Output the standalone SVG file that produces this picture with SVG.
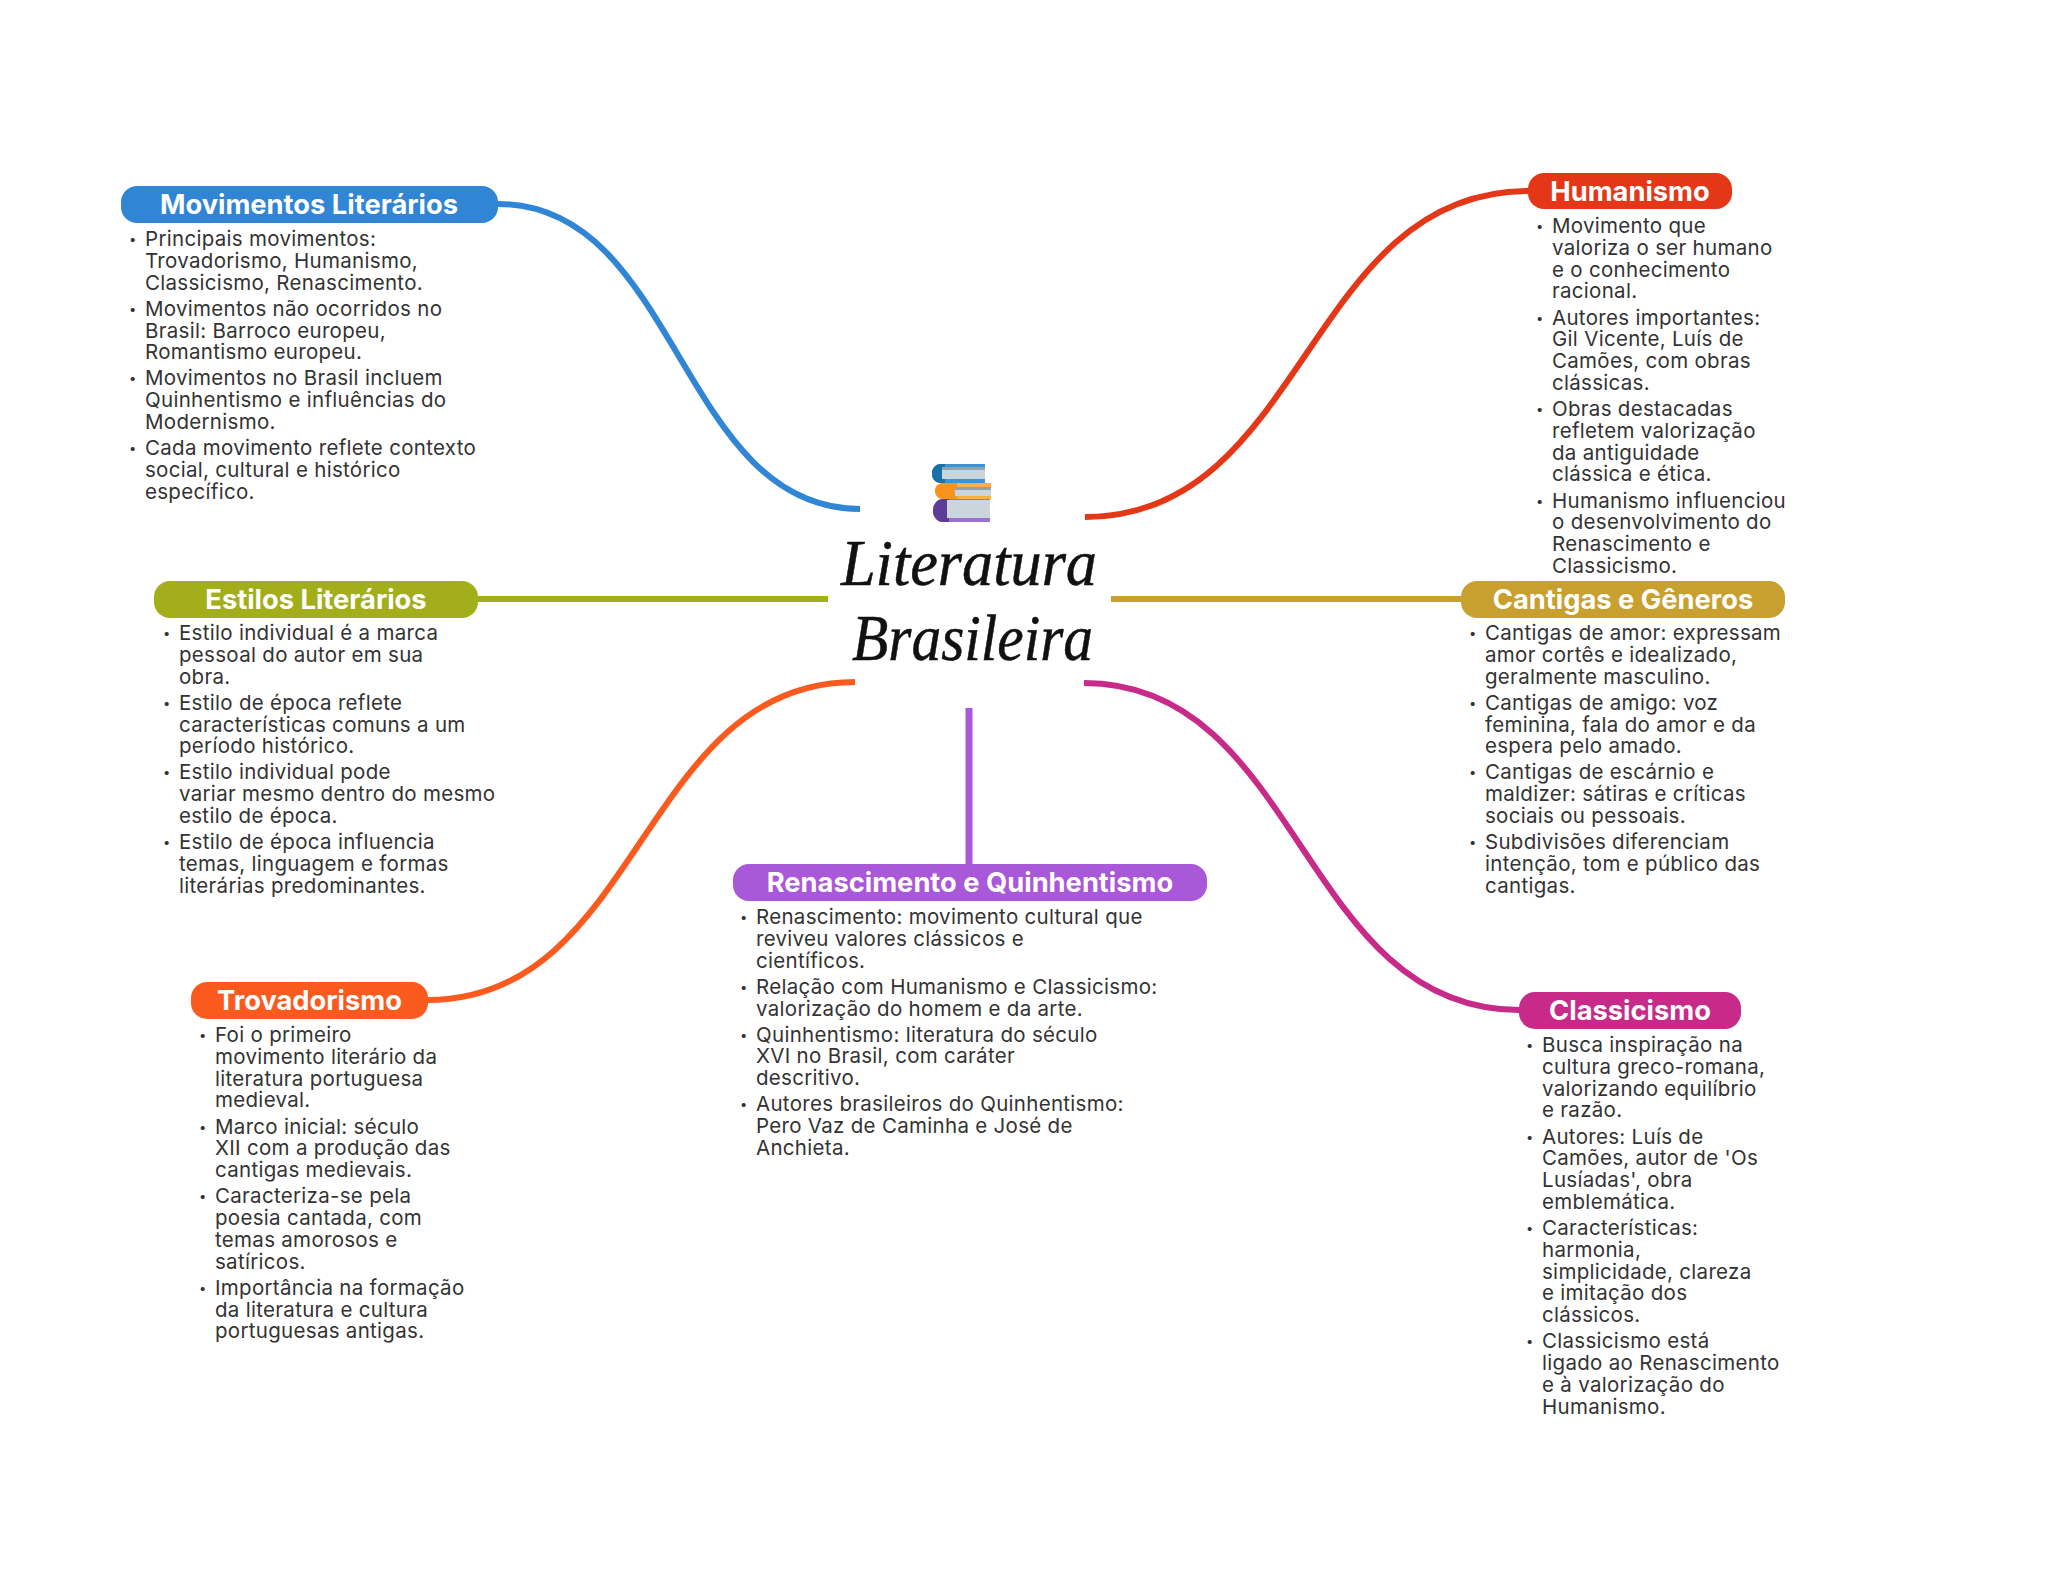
<svg xmlns="http://www.w3.org/2000/svg" width="2048" height="1569" viewBox="0 0 2048 1569">
<defs><filter id="soft" x="-5%" y="-5%" width="110%" height="110%"><feGaussianBlur stdDeviation="0.6"/></filter></defs>
<style>
.c{fill:none;stroke-width:6}
.p{font:700 27.3px Inter,"Liberation Sans",sans-serif;fill:#fff;text-anchor:middle}
.t{font:400 20.5px Inter,"Liberation Sans",sans-serif;fill:#333;letter-spacing:.3px}
.b{font-size:13px}
.h{font:italic 400 65px "Liberation Serif",serif;fill:#111;stroke:#111;stroke-width:.5}
</style>
<rect width="2048" height="1569" fill="#fff"/>
<g id="connectors">
<path class="c" stroke="#3085d5" d="M498 204C679 204 679 509 860 509"/>
<path class="c" stroke="#e43718" d="M1528 191C1306 191 1306 517 1085 517"/>
<path class="c" stroke="#a3ae1b" d="M478 599H828"/>
<path class="c" stroke="#c8a02f" d="M1111 599H1461"/>
<path class="c" stroke="#fb5a1f" d="M428 1000C641 1000 641 682 855 682"/>
<path class="c" stroke="#c72a89" d="M1084 683C1301 683 1301 1010 1519 1010"/>
<path class="c" stroke="#a858d8" style="stroke-width:7" d="M969 708V864"/>
</g>
<g id="center">
<g id="books" filter="url(#soft)">
<path fill="#3a94d8" d="M940 464H985V483H940A8 9 0 0 1 932 473A8 9 0 0 1 940 464Z"/><path fill="#1f6fa8" d="M940 464A8 9 0 0 0 932 473A8 9 0 0 0 940 483H945V464Z"/><rect x="942" y="467" width="43" height="12" fill="#cbd6dc"/><rect x="942" y="467" width="43" height="3" fill="#8fa3ad"/>
<path fill="#fbb040" d="M943 483H991V499H943A8 8 0 0 1 935 491A8 8 0 0 1 943 483Z"/><path fill="#f7941a" d="M943 483A8 8 0 0 0 935 491A8 8 0 0 0 943 499H957V483Z"/><rect x="955" y="487" width="36" height="9" fill="#cbd6dc"/><rect x="955" y="487" width="36" height="3" fill="#8fa3ad"/>
<path fill="#9a6fd0" d="M943 499H990V522H943A10 11 0 0 1 933 510A10 11 0 0 1 943 499Z"/><path fill="#5e3a98" d="M943 499A10 11 0 0 0 933 510A10 11 0 0 0 943 522H949V499Z"/><rect x="947" y="500" width="43" height="18" fill="#cbd6dc"/>
</g>
<text class="h" x="841" y="585" textLength="256" lengthAdjust="spacingAndGlyphs">Literatura</text>
<text class="h" x="852" y="660" textLength="241" lengthAdjust="spacingAndGlyphs">Brasileira</text>
</g>
<g id="movimentos">
<rect x="121" y="186" width="377" height="37" rx="16" fill="#3085d5"/>
<text class="p" x="309" y="214">Movimentos Literários</text>
<text class="t"><tspan class="b" x="129" y="244">•</tspan><tspan x="145" y="246">Principais movimentos:</tspan><tspan x="145" y="267.8">Trovadorismo, Humanismo,</tspan><tspan x="145" y="289.6">Classicismo, Renascimento.</tspan><tspan class="b" x="129" y="313.700">•</tspan><tspan x="145" y="315.7">Movimentos não ocorridos no</tspan><tspan x="145" y="337.5">Brasil: Barroco europeu,</tspan><tspan x="145" y="359.3">Romantismo europeu.</tspan><tspan class="b" x="129" y="383.400">•</tspan><tspan x="145" y="385.4">Movimentos no Brasil incluem</tspan><tspan x="145" y="407.2">Quinhentismo e influências do</tspan><tspan x="145" y="429">Modernismo.</tspan><tspan class="b" x="129" y="453.100">•</tspan><tspan x="145" y="455.1">Cada movimento reflete contexto</tspan><tspan x="145" y="476.9">social, cultural e histórico</tspan><tspan x="145" y="498.7">específico.</tspan></text>
</g>
<g id="humanismo">
<rect x="1528" y="173" width="204" height="36" rx="16" fill="#e43718"/>
<text class="p" x="1630" y="201">Humanismo</text>
<text class="t"><tspan class="b" x="1536" y="231">•</tspan><tspan x="1552" y="233">Movimento que</tspan><tspan x="1552" y="254.8">valoriza o ser humano</tspan><tspan x="1552" y="276.6">e o conhecimento</tspan><tspan x="1552" y="298.4">racional.</tspan><tspan class="b" x="1536" y="322.500">•</tspan><tspan x="1552" y="324.5">Autores importantes:</tspan><tspan x="1552" y="346.3">Gil Vicente, Luís de</tspan><tspan x="1552" y="368.1">Camões, com obras</tspan><tspan x="1552" y="389.9">clássicas.</tspan><tspan class="b" x="1536" y="414">•</tspan><tspan x="1552" y="416">Obras destacadas</tspan><tspan x="1552" y="437.8">refletem valorização</tspan><tspan x="1552" y="459.6">da antiguidade</tspan><tspan x="1552" y="481.4">clássica e ética.</tspan><tspan class="b" x="1536" y="505.500">•</tspan><tspan x="1552" y="507.5">Humanismo influenciou</tspan><tspan x="1552" y="529.3">o desenvolvimento do</tspan><tspan x="1552" y="551.1">Renascimento e</tspan><tspan x="1552" y="572.9">Classicismo.</tspan></text>
</g>
<g id="estilos">
<rect x="154" y="581" width="324" height="37" rx="16" fill="#a3ae1b"/>
<text class="p" x="316" y="609">Estilos Literários</text>
<text class="t"><tspan class="b" x="163" y="638">•</tspan><tspan x="179" y="640">Estilo individual é a marca</tspan><tspan x="179" y="661.8">pessoal do autor em sua</tspan><tspan x="179" y="683.6">obra.</tspan><tspan class="b" x="163" y="707.700">•</tspan><tspan x="179" y="709.7">Estilo de época reflete</tspan><tspan x="179" y="731.5">características comuns a um</tspan><tspan x="179" y="753.3">período histórico.</tspan><tspan class="b" x="163" y="777.400">•</tspan><tspan x="179" y="779.4">Estilo individual pode</tspan><tspan x="179" y="801.2">variar mesmo dentro do mesmo</tspan><tspan x="179" y="823">estilo de época.</tspan><tspan class="b" x="163" y="847.100">•</tspan><tspan x="179" y="849.1">Estilo de época influencia</tspan><tspan x="179" y="870.9">temas, linguagem e formas</tspan><tspan x="179" y="892.7">literárias predominantes.</tspan></text>
</g>
<g id="cantigas">
<rect x="1461" y="581" width="324" height="37" rx="16" fill="#c8a02f"/>
<text class="p" x="1623" y="609">Cantigas e Gêneros</text>
<text class="t"><tspan class="b" x="1469" y="638">•</tspan><tspan x="1485" y="640">Cantigas de amor: expressam</tspan><tspan x="1485" y="661.8">amor cortês e idealizado,</tspan><tspan x="1485" y="683.6">geralmente masculino.</tspan><tspan class="b" x="1469" y="707.700">•</tspan><tspan x="1485" y="709.7">Cantigas de amigo: voz</tspan><tspan x="1485" y="731.5">feminina, fala do amor e da</tspan><tspan x="1485" y="753.3">espera pelo amado.</tspan><tspan class="b" x="1469" y="777.400">•</tspan><tspan x="1485" y="779.4">Cantigas de escárnio e</tspan><tspan x="1485" y="801.2">maldizer: sátiras e críticas</tspan><tspan x="1485" y="823">sociais ou pessoais.</tspan><tspan class="b" x="1469" y="847.100">•</tspan><tspan x="1485" y="849.1">Subdivisões diferenciam</tspan><tspan x="1485" y="870.9">intenção, tom e público das</tspan><tspan x="1485" y="892.7">cantigas.</tspan></text>
</g>
<g id="trovadorismo">
<rect x="191" y="982" width="237" height="37" rx="16" fill="#fb5a1f"/>
<text class="p" x="309.500" y="1010">Trovadorismo</text>
<text class="t"><tspan class="b" x="199" y="1040">•</tspan><tspan x="215" y="1042">Foi o primeiro</tspan><tspan x="215" y="1063.8">movimento literário da</tspan><tspan x="215" y="1085.6">literatura portuguesa</tspan><tspan x="215" y="1107.4">medieval.</tspan><tspan class="b" x="199" y="1131.500">•</tspan><tspan x="215" y="1133.5">Marco inicial: século</tspan><tspan x="215" y="1155.3">XII com a produção das</tspan><tspan x="215" y="1177.1">cantigas medievais.</tspan><tspan class="b" x="199" y="1201.200">•</tspan><tspan x="215" y="1203.2">Caracteriza-se pela</tspan><tspan x="215" y="1225">poesia cantada, com</tspan><tspan x="215" y="1246.8">temas amorosos e</tspan><tspan x="215" y="1268.6">satíricos.</tspan><tspan class="b" x="199" y="1292.700">•</tspan><tspan x="215" y="1294.7">Importância na formação</tspan><tspan x="215" y="1316.5">da literatura e cultura</tspan><tspan x="215" y="1338.3">portuguesas antigas.</tspan></text>
</g>
<g id="renascimento">
<rect x="733" y="864" width="474" height="37" rx="16" fill="#a858d8"/>
<text class="p" x="970" y="892">Renascimento e Quinhentismo</text>
<text class="t"><tspan class="b" x="740" y="922">•</tspan><tspan x="756" y="924">Renascimento: movimento cultural que</tspan><tspan x="756" y="945.8">reviveu valores clássicos e</tspan><tspan x="756" y="967.6">científicos.</tspan><tspan class="b" x="740" y="991.700">•</tspan><tspan x="756" y="993.7">Relação com Humanismo e Classicismo:</tspan><tspan x="756" y="1015.5">valorização do homem e da arte.</tspan><tspan class="b" x="740" y="1039.600">•</tspan><tspan x="756" y="1041.6">Quinhentismo: literatura do século</tspan><tspan x="756" y="1063.4">XVI no Brasil, com caráter</tspan><tspan x="756" y="1085.2">descritivo.</tspan><tspan class="b" x="740" y="1109.300">•</tspan><tspan x="756" y="1111.3">Autores brasileiros do Quinhentismo:</tspan><tspan x="756" y="1133.1">Pero Vaz de Caminha e José de</tspan><tspan x="756" y="1154.9">Anchieta.</tspan></text>
</g>
<g id="classicismo">
<rect x="1519" y="992" width="222" height="37" rx="16" fill="#c72a89"/>
<text class="p" x="1630" y="1020">Classicismo</text>
<text class="t"><tspan class="b" x="1526" y="1050">•</tspan><tspan x="1542" y="1052">Busca inspiração na</tspan><tspan x="1542" y="1073.8">cultura greco-romana,</tspan><tspan x="1542" y="1095.6">valorizando equilíbrio</tspan><tspan x="1542" y="1117.4">e razão.</tspan><tspan class="b" x="1526" y="1141.500">•</tspan><tspan x="1542" y="1143.5">Autores: Luís de</tspan><tspan x="1542" y="1165.3">Camões, autor de 'Os</tspan><tspan x="1542" y="1187.1">Lusíadas', obra</tspan><tspan x="1542" y="1208.9">emblemática.</tspan><tspan class="b" x="1526" y="1233">•</tspan><tspan x="1542" y="1235">Características:</tspan><tspan x="1542" y="1256.8">harmonia,</tspan><tspan x="1542" y="1278.6">simplicidade, clareza</tspan><tspan x="1542" y="1300.4">e imitação dos</tspan><tspan x="1542" y="1322.2">clássicos.</tspan><tspan class="b" x="1526" y="1346.300">•</tspan><tspan x="1542" y="1348.3">Classicismo está</tspan><tspan x="1542" y="1370.1">ligado ao Renascimento</tspan><tspan x="1542" y="1391.9">e à valorização do</tspan><tspan x="1542" y="1413.7">Humanismo.</tspan></text>
</g>
</svg>
